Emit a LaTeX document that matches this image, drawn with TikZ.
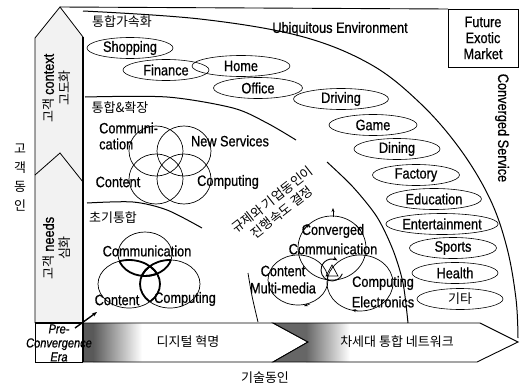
\documentclass[tikz,border=0pt]{standalone}
\usepackage{fontspec}
\setmainfont{Liberation Sans}[FakeStretch=0.85,FakeBold=0.7]
\newfontfamily\krfont{Noto Sans CJK KR}
\usetikzlibrary{shapes.geometric,arrows.meta}
\newcommand\myfe{\fontsize{15}{16}\selectfont}
\newcommand\myfp{\fontsize{13}{14}\selectfont\itshape}
\newcommand\myfk{\krfont\fontsize{13}{16}\selectfont}
\begin{document}
\begin{tikzpicture}[x=1pt,y=-1pt,
  oval/.style={draw, ellipse, line width=0.6pt, inner sep=0pt, minimum height=21pt, font=\myfe},
  lbl/.style={inner sep=0pt, font=\myfe},
  krl/.style={inner sep=0pt, font=\myfk},
  arcl/.style={line width=1pt},
  venn/.style={line width=0.7pt},
  thickv/.style={line width=1.8pt},
  tick/.style={line width=0.6pt, -{Stealth[length=4pt,width=3pt]}},
]
\useasboundingbox (0,0) rectangle (520,388);

% ---------- left column (arrows) ----------
\fill[black!5] (35,362) -- (35,38) -- (60,7) -- (83,37) -- (83,362) -- cycle;
\draw[line width=0.8pt] (35,323) -- (35,38) -- (60,7) -- (83,37);
\draw[line width=0.8pt] (35,175) -- (60,153) -- (83,182);
\fill[white] (35,323) rectangle (83,362);
\draw[line width=0.8pt] (35,323) -- (35,362) -- (83,362);
\draw[line width=1.6pt] (35,323) -- (83,323);

% ---------- bars ----------
\path[fill=white] (83,323) -- (273,323) -- (308,342) -- (273,362) -- (83,362) -- cycle;
\begin{scope}
  \clip (83,323) -- (273,323) -- (308,342) -- (273,362) -- (83,362) -- cycle;
  \fill[black!65] (83,323) rectangle (93,362);
  \shade[left color=black!65, right color=white] (93,323) rectangle (142,362);
\end{scope}
\draw[line width=0.9pt] (83,323) -- (273,323) -- (308,342) -- (273,362) -- (83,362);
\path[fill=white] (273,323) -- (480,323) -- (518,342) -- (477,362) -- (273,362) -- (308,342) -- cycle;
\begin{scope}
  \clip (273,323) -- (480,323) -- (518,342) -- (477,362) -- (273,362) -- (308,342) -- cycle;
  \fill[black!60] (273,323) rectangle (306,362);
  \shade[left color=black!60, right color=white] (306,323) rectangle (350,362);
\end{scope}
\draw[line width=0.9pt] (273,323) -- (480,323) -- (518,342) -- (477,362) -- (273,362) -- (308,342) -- cycle;
\node[krl] (dig) at (188,342) {디지털 혁명};
\node[krl] (nxt) at (397,342) {차세대 통합 네트워크};

\draw[line width=1.6pt] (83,37) -- (83,362);

% ---------- frame top and box ----------
\draw[line width=0.9pt] (60,7) -- (448,9);
\node[draw, line width=0.9pt, minimum width=70pt, minimum height=58pt, inner sep=0pt,
      align=center, font=\myfe] (fem) at (483,38) {Future\\Exotic\\Market};

% ---------- arcs ----------
\draw[arcl] plot[smooth, tension=0.6] coordinates {(83,11) (200,19) (300,36) (370,64) (420,103) (460,149) (490,199) (507,248) (516,299) (518,338)};
\draw[arcl] plot[smooth] coordinates {(85,97) (167,97) (233,108) (267,123) (296,140)};
\draw[arcl] plot[smooth] coordinates {(327,162) (353,187) (377,217) (393,250) (403,283) (408,323)};
\draw[arcl] plot[smooth] coordinates {(87,203) (133,202) (167,210) (202,228)};
\draw[line width=0.8pt] plot[smooth] coordinates {(248,273) (252,296) (258,322)};

% ---------- region labels ----------
\node[krl] (l1) at (122,22) {통합가속화};
\node[lbl] (ubi) at (340,29) {Ubiquitous Environment};
\node[krl] (l2) at (120,108) {통합\&확장};
\node[krl] (l3) at (113,218) {초기통합};
\node[lbl, rotate=-90] (cs) at (502,128) {Converged Service};
\node[lbl, rotate=90, align=center] (ctx) at (57,88) {{\myfk 고객} context\\{\myfk 고도화}};
\node[lbl, rotate=90, align=center] (nds) at (57,248) {{\myfk 고객} needs\\{\myfk 심화}};
\node[krl, align=center, font=\krfont\fontsize{13}{19}\selectfont] (cust) at (20,178) {고\\객\\동\\인};
\node[krl] (tech) at (265,378) {기술동인};
\node[lbl, align=center, font=\myfp] (pre) at (59,343) {Pre-\\Convergence\\Era};
\coordinate (pa) at (75,328);
\coordinate (pb) at (97,312);
\draw[line width=1.4pt, -{Stealth[length=5pt]}] (pa) -- (pb);
\node[krl, rotate=38, align=center] (reg) at (277,206) {규제와 기업동인이\\진행속도 결정};

% ---------- service ellipses ----------
\node[oval, minimum width=86pt] (shop) at (130,48) {Shopping};
\node[oval, minimum width=86pt] (fin) at (166,70) {Finance};
\node[oval, minimum width=98pt] (home) at (241,66) {Home};
\node[oval, minimum width=89pt] (off) at (258,88) {Office};
\node[oval, minimum width=95pt] (drv) at (341,99) {Driving};
\node[oval, minimum width=88pt] (game) at (373,125) {Game};
\node[oval, minimum width=86pt] (din) at (397,149) {Dining};
\node[oval, minimum width=87pt] (fac) at (416,175) {Factory};
\node[oval, minimum width=95pt] (edu) at (434,199) {Education};
\node[oval, minimum width=88pt] (ent) at (442,224) {Entertainment};
\node[oval, minimum width=87pt] (spo) at (453,248) {Sports};
\node[oval, minimum width=86pt] (hea) at (455,273) {Health};
\node[oval, minimum width=86pt, font=\myfk] (etc) at (460,299) {기타};

% ---------- Venn 1 (통합&확장) ----------
\draw[venn] (156,151) ellipse [x radius=27pt, y radius=25pt];
\draw[venn] (184,151) ellipse [x radius=27pt, y radius=25pt];
\draw[venn] (156,179) ellipse [x radius=27pt, y radius=25pt];
\draw[venn] (184,179) ellipse [x radius=27pt, y radius=25pt];
\node[lbl, align=left, anchor=west] (v1a) at (99,136) {Communi-\\cation};
\node[lbl] (v1b) at (230,141) {New Services};
\node[lbl] (v1c) at (118,182) {Content};
\node[lbl] (v1d) at (228,182) {Computing};

% ---------- Venn 2 (초기통합) ----------
\draw[venn] (145,254) ellipse [x radius=27pt, y radius=22pt];
\draw[venn] (129,284) ellipse [x radius=31pt, y radius=24pt];
\draw[venn] (170,284) ellipse [x radius=30pt, y radius=24pt];
\begin{scope}
  \clip (145,254) ellipse [x radius=27pt, y radius=22pt];
  \draw[thickv] (129,284) ellipse [x radius=31pt, y radius=24pt];
  \draw[thickv] (170,284) ellipse [x radius=30pt, y radius=24pt];
\end{scope}
\begin{scope}
  \clip (129,284) ellipse [x radius=31pt, y radius=24pt];
  \draw[thickv] (145,254) ellipse [x radius=27pt, y radius=22pt];
  \draw[thickv] (170,284) ellipse [x radius=30pt, y radius=24pt];
\end{scope}
\begin{scope}
  \clip (170,284) ellipse [x radius=30pt, y radius=24pt];
  \draw[thickv] (145,254) ellipse [x radius=27pt, y radius=22pt];
  \draw[thickv] (129,284) ellipse [x radius=31pt, y radius=24pt];
\end{scope}
\node[lbl] (v2a) at (147,251) {Communication};
\node[lbl] (v2b) at (117,300) {Content};
\node[lbl] (v2c) at (185,299) {Computing};

% ---------- Venn 3 (converged) ----------
\draw[venn] (332,248) ellipse [x radius=34pt, y radius=32pt];
\draw[venn] (298,280) ellipse [x radius=30pt, y radius=25pt];
\draw[venn] (360,283) ellipse [x radius=33pt, y radius=28pt];
\draw[tick] (333,217) -- (333,208);
\draw[tick] (304,229) -- (309,224);
\draw[tick] (356,225) -- (361,231);
\draw[tick] (310,304) -- (304,306);
\draw[tick] (358,311) -- (352,310);
\draw[line width=0.9pt, -{Stealth[length=5pt]}] (332,270) ++(-20:11pt) arc[start angle=-20, end angle=-300, radius=11pt];
\draw[line width=0.7pt] (326,276) -- (332,265) -- (338,276) -- cycle;
\node[lbl] (v3a) at (333,231) {Converged};
\node[lbl] (v3b) at (333,249) {Communication};
\node[lbl] (v3c) at (283,271) {Content};
\node[lbl] (v3d) at (283,288) {Multi-media};
\node[lbl] (v3e) at (383,283) {Computing};
\node[lbl] (v3f) at (383,302) {Electronics};
\end{tikzpicture}
\end{document}
